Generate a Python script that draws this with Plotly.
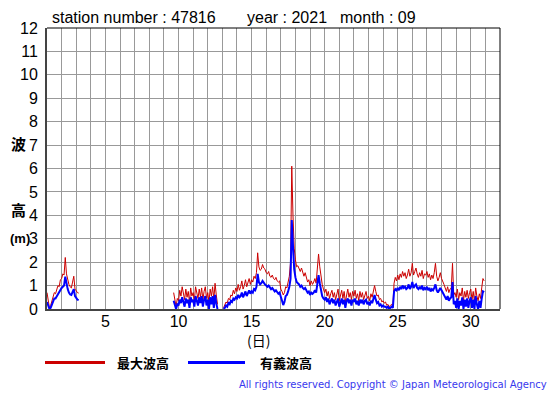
import plotly.graph_objects as go

N = None
# 2-hourly values, one row per day (00h, 02h, ..., 22h), days 1..30 of 2021-09
max_wave_rows = [
    [0.70, 0.25, 0.05, 0.15, 0.35, 0.55, 0.70, 0.65, 0.85, 1.00, 0.95, 1.25],  # 1
    [1.30, 1.50, 1.45, 2.20, 1.50, 1.25, 1.05, 0.95, 0.90, 1.15, 1.40, 0.85],  # 2
    [0.75, 0.70, 0.68, N, N, N, N, N, N, N, N, N],                            # 3
    [N] * 12, [N] * 12, [N] * 12, [N] * 12, [N] * 12,                          # 4-8
    [N, N, N, N, N, N, N, N, 0.70, 0.30, 0.10, 0.45],                          # 9
    [0.35, 0.80, 0.55, 0.95, 0.60, 0.40, 0.85, 0.50, 0.75, 0.30, 0.90, 0.55],  # 10
    [0.70, 0.35, 0.95, 0.60, 0.45, 0.85, 0.50, 0.90, 0.40, 0.75, 0.95, 0.45],  # 11
    [0.70, 0.30, 0.85, 0.55, 0.95, 0.40, 1.10, 0.60, 0.20, N, N, N],          # 12
    [N, 0.05, 0.15, 0.30, 0.25, 0.45, 0.40, 0.60, 0.55, 0.80, 0.65, 0.90],    # 13
    [0.75, 1.05, 0.80, 0.95, 1.20, 0.85, 1.00, 1.25, 0.95, 1.10, 1.30, 1.05],  # 14
    [1.25, 1.15, 1.40, 1.30, 1.55, 2.40, 1.80, 1.65, 1.70, 1.90, 1.75, 1.70],  # 15
    [1.55, 1.50, 1.60, 1.40, 1.35, 1.45, 1.30, 1.25, 1.35, 1.20, 1.15, 1.20],  # 16
    [0.85, 0.75, 0.60, 0.70, 0.95, 0.90, 1.15, 1.40, 2.00, 6.10, 4.00, 2.60],  # 17
    [2.10, 1.80, 1.85, 1.70, 1.60, 1.75, 1.50, 1.40, 1.55, 1.30, 1.15, 1.25],  # 18
    [1.00, 1.20, 1.05, 1.15, 1.30, 1.10, 1.60, 2.35, 1.80, 1.30, 1.05, 0.85],  # 19
    [0.70, 0.85, 0.55, 0.75, 0.45, 0.65, 0.80, 0.50, 0.70, 0.40, 0.60, 0.85],  # 20
    [0.35, 0.55, 0.80, 0.45, 0.75, 0.30, 0.65, 0.85, 0.50, 0.70, 0.40, 0.75],  # 21
    [0.55, 0.80, 0.45, 0.65, 0.35, 0.75, 0.50, 0.70, 0.40, 0.60, 0.75, 0.45],  # 22
    [0.55, 0.35, 0.65, 0.50, 0.80, 1.00, 0.75, 0.55, 0.60, 0.40, 0.45, 0.30],  # 23
    [0.35, 0.25, 0.30, 0.15, 0.20, 0.10, 0.15, 0.20, 0.10, 1.10, 1.35, 1.20],  # 24
    [1.45, 1.25, 1.50, 1.35, 1.60, 1.40, 1.55, 1.30, 1.45, 1.70, 1.40, 1.55],  # 25
    [1.95, 1.45, 1.60, 1.75, 1.50, 1.35, 1.55, 1.40, 1.65, 1.30, 1.50, 1.45],  # 26
    [1.60, 1.35, 1.50, 1.25, 1.45, 1.30, 1.55, 1.95, 1.40, 1.20, 1.35, 1.55],  # 27
    [1.30, 1.20, 1.05, 0.90, 0.75, 0.95, 0.70, 0.85, 0.90, 1.95, 0.60, 0.70],  # 28
    [0.50, 0.85, 0.40, 0.70, 0.55, 0.90, 0.35, 0.75, 0.50, 0.80, 0.45, 0.70],  # 29
    [0.85, 0.40, 0.75, 0.30, 0.90, 0.55, 0.35, 0.65, 0.45, 0.90, 1.30, 1.20],  # 30
]
sig_wave_rows = [
    [0.30, 0.10, 0.00, 0.05, 0.20, 0.35, 0.45, 0.45, 0.55, 0.65, 0.70, 0.85],  # 1
    [0.90, 0.95, 1.00, 1.38, 1.05, 0.85, 0.70, 0.62, 0.60, 0.75, 0.85, 0.55],  # 2
    [0.45, 0.40, 0.38, N, N, N, N, N, N, N, N, N],                            # 3
    [N] * 12, [N] * 12, [N] * 12, [N] * 12, [N] * 12,                          # 4-8
    [N, N, N, N, N, N, N, N, 0.35, 0.10, 0.00, 0.20],                          # 9
    [0.15, 0.40, 0.25, 0.50, 0.30, 0.10, 0.45, 0.25, 0.40, 0.05, 0.50, 0.30],  # 10
    [0.40, 0.10, 0.55, 0.30, 0.15, 0.50, 0.25, 0.55, 0.10, 0.40, 0.55, 0.15],  # 11
    [0.40, 0.00, 0.50, 0.20, 0.55, 0.05, 0.60, 0.25, 0.00, N, N, N],          # 12
    [N, 0.00, 0.05, 0.15, 0.10, 0.25, 0.20, 0.35, 0.30, 0.45, 0.40, 0.50],    # 13
    [0.45, 0.60, 0.50, 0.55, 0.70, 0.50, 0.60, 0.75, 0.55, 0.65, 0.80, 0.65],  # 14
    [0.75, 0.70, 0.85, 0.80, 0.95, 1.50, 1.15, 1.05, 1.10, 1.20, 1.10, 1.05],  # 15
    [1.00, 0.95, 1.00, 0.90, 0.85, 0.90, 0.80, 0.75, 0.80, 0.70, 0.65, 0.70],  # 16
    [0.45, 0.35, 0.17, 0.30, 0.55, 0.60, 0.75, 0.95, 1.30, 3.80, 2.70, 1.70],  # 17
    [1.35, 1.15, 1.10, 1.05, 0.95, 1.00, 0.90, 0.85, 0.90, 0.80, 0.70, 0.75],  # 18
    [0.60, 0.70, 0.65, 0.70, 0.80, 0.70, 1.00, 1.45, 1.10, 0.80, 0.55, 0.45],  # 19
    [0.40, 0.50, 0.30, 0.45, 0.20, 0.35, 0.45, 0.25, 0.40, 0.15, 0.30, 0.45],  # 20
    [0.10, 0.25, 0.45, 0.20, 0.40, 0.05, 0.35, 0.45, 0.25, 0.40, 0.15, 0.40],  # 21
    [0.30, 0.45, 0.20, 0.35, 0.15, 0.40, 0.25, 0.40, 0.20, 0.35, 0.40, 0.20],  # 22
    [0.30, 0.15, 0.35, 0.25, 0.45, 0.60, 0.40, 0.25, 0.30, 0.15, 0.20, 0.10],  # 23
    [0.15, 0.10, 0.10, 0.05, 0.10, 0.00, 0.05, 0.10, 0.05, 0.75, 0.85, 0.80],  # 24
    [0.90, 0.80, 0.95, 0.85, 1.00, 0.90, 0.95, 0.85, 0.90, 1.05, 0.85, 0.95],  # 25
    [1.15, 0.90, 1.00, 1.05, 0.90, 0.85, 0.95, 0.85, 1.00, 0.80, 0.90, 0.85],  # 26
    [0.95, 0.80, 0.90, 0.75, 0.85, 0.80, 0.90, 1.05, 0.80, 0.70, 0.80, 0.90],  # 27
    [0.80, 0.70, 0.60, 0.50, 0.40, 0.55, 0.35, 0.45, 0.50, 1.15, 0.20, 0.35],  # 28
    [0.05, 0.45, 0.00, 0.35, 0.15, 0.50, 0.00, 0.40, 0.10, 0.45, 0.05, 0.35],  # 29
    [0.50, 0.05, 0.40, 0.00, 0.55, 0.20, 0.00, 0.35, 0.05, 0.45, 0.75, 0.72],  # 30
]
x_tick_vals = [5, 10, 15, 20, 25, 30]
x_tick_text = ["5", "10", "15", "20", "25", "30"]
y_tick_vals = list(range(0, 13))

max_wave = [v for row in max_wave_rows for v in row]
sig_wave = [v for row in sig_wave_rows for v in row]
times = [day + h / 24 for day in range(1, 31) for h in range(0, 24, 2)]

# page body has an 8px margin; lay the figure out in window pixels
OFF = 8
W, H = 555 - OFF, 395 - OFF
ML, MT = 47 - OFF, 26 - OFF
MR = W - (500 - OFF)
MB = H - (309 - OFF)
PW, PH = W - ML - MR, H - MT - MB


def px(x):
    return (x - OFF - ML) / PW


def py(y):
    return (H - MB - (y - OFF)) / PH


RED = "#cc0000"
BLUE = "#0000ff"
SANS = "Liberation Sans, Arial, sans-serif"
CJK = "Noto Sans CJK JP"

fig = go.Figure()
fig.add_trace(go.Scatter(x=times, y=max_wave, mode="lines",
                         line=dict(color=RED, width=1), connectgaps=False,
                         name="最大波高"))
fig.add_trace(go.Scatter(x=times, y=sig_wave, mode="lines",
                         line=dict(color=BLUE, width=2), connectgaps=False,
                         name="有義波高"))

fig.update_layout(
    width=W, height=H,
    margin=dict(l=ML, r=MR, t=MT, b=MB, pad=0),
    paper_bgcolor="white", plot_bgcolor="white",
    showlegend=False,
    xaxis=dict(range=[1, 32], tickvals=x_tick_vals, ticktext=x_tick_text,
               showgrid=True, gridcolor="#999999", gridwidth=1,
               minor=dict(dtick=1, tick0=1, showgrid=True, gridcolor="#999999", gridwidth=1),
               showline=True, linecolor="#444444", linewidth=2,
               ticks="", ticklabelstandoff=-3,
               tickfont=dict(family=SANS, size=16, color="black"),
               zeroline=False, fixedrange=True),
    yaxis=dict(range=[0, 12], tickvals=y_tick_vals,
               showgrid=True, gridcolor="#999999", gridwidth=1,
               showline=True, linecolor="#444444", linewidth=2,
               ticks="", ticklabelstandoff=4,
               tickfont=dict(family=SANS, size=16, color="black"),
               zeroline=False, fixedrange=True),
)

# top and right frame lines
fig.add_shape(type="line", xref="paper", yref="paper", x0=0, x1=1, y0=1, y1=1,
              line=dict(color="black", width=1))
fig.add_shape(type="line", xref="paper", yref="paper", x0=1, x1=1, y0=0, y1=1,
              line=dict(color="black", width=1))

ann = []


def text(x, y, s, size, family=SANS, color="black", xanchor="left", weight=None):
    f = dict(family=family, size=size, color=color)
    if weight:
        f["weight"] = weight
    ann.append(dict(x=px(x), y=py(y), xref="paper", yref="paper", text=s,
                    showarrow=False, xanchor=xanchor, yanchor="middle", font=f))


text(50, 15, "station number : 47816", 16)
text(245, 15, "year : 2021", 16)
text(338, 15, "month : 09", 16)
text(9, 142, "波", 15, family=CJK, weight="bold")
text(9, 209, "高", 15, family=CJK, weight="bold")
text(8, 238, "(m)", 13, family=SANS, weight="bold")
text(258, 340, "(日)", 14, family=CJK, xanchor="center")
text(115, 363, "最大波高", 13, family=CJK, weight="bold")
text(258, 363, "有義波高", 13, family=CJK, weight="bold")
text(549, 385, "All rights reserved. Copyright © Japan Meteorological Agency", 10,
     family="DejaVu Sans", color="#3838ee", xanchor="right")
fig.update_layout(annotations=ann)

# legend swatches
fig.add_shape(type="line", xref="paper", yref="paper", x0=px(45), x1=px(105),
              y0=py(363), y1=py(363), line=dict(color=RED, width=3))
fig.add_shape(type="line", xref="paper", yref="paper", x0=px(188), x1=px(245),
              y0=py(363), y1=py(363), line=dict(color=BLUE, width=3))

fig.write_html("out.html", config=dict(displayModeBar=False))
